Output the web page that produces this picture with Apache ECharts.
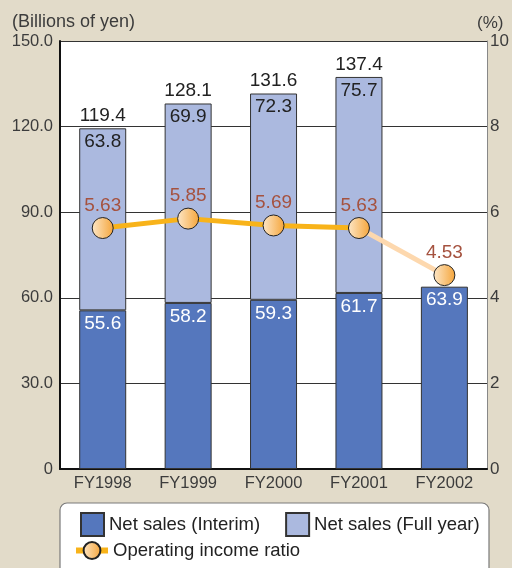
<!DOCTYPE html>
<html>
<head>
<meta charset="utf-8">
<script src="https://cdn.jsdelivr.net/npm/echarts@6/dist/echarts.min.js"></script>
<style>
  html, body { margin: 0; padding: 0; background: #e2dbc9; }
  #chart { width: 512px; height: 568px; }
</style>
</head>
<body>
<div id="chart"></div>
<script>
// Fiscal years on the category axis
const categories = ['FY1998', 'FY1999', 'FY2000', 'FY2001', 'FY2002'];
// Net sales, first half of the year (billions of yen)
const interimSales = [55.6, 58.2, 59.3, 61.7, 63.9];
// Net sales, second half of the year (stacked on the interim figure)
const secondHalfSales = [63.8, 69.9, 72.3, 75.7, '-'];
// Net sales for the full year, shown above each bar
const fullYearSales = [119.4, 128.1, 131.6, 137.4, '-'];
// Operating income ratio (%) for completed years
const incomeRatio = [5.63, 5.85, 5.69, 5.63, '-'];
// Forecast segment of the operating income ratio
const incomeRatioForecast = ['-', '-', '-', 5.63, 4.53];
// Tick labels for both value axes
const leftTickLabels = ['0', '30.0', '60.0', '90.0', '120.0', '150.0'];
const rightTickLabels = ['0', '2', '4', '6', '8', '10'];

const FONT = '"Liberation Sans", Arial, sans-serif';
const TEXT = '#3c3c3c';
const DARK_BLUE = '#5577bd';
const LIGHT_BLUE = '#abb9df';
const ORANGE = '#f8b31a';
const PEACH = '#fdd8ae';
const RATIO_RED = '#a5523f';
const VALUE_SIZE = 19;

const markerFill = new echarts.graphic.LinearGradient(0, 0, 1, 0, [
  { offset: 0, color: '#fde7c8' },
  { offset: 1, color: '#f5a53a' }
]);

const chart = echarts.init(document.getElementById('chart'));

chart.setOption({
  backgroundColor: '#e2dbc9',
  animation: false,
  textStyle: { fontFamily: FONT },
  title: [
    { text: '(Billions of yen)', left: 7, top: 8,
      textStyle: { fontFamily: FONT, fontSize: 18, fontWeight: 'normal', color: TEXT } },
    { text: '(%)', left: 472, top: 10,
      textStyle: { fontFamily: FONT, fontSize: 17, fontWeight: 'normal', color: TEXT } }
  ],
  grid: {
    left: 60, right: 23, top: 41, bottom: 99,
    show: true, backgroundColor: '#ffffff', borderWidth: 0
  },
  graphic: [{
    type: 'rect', z: 0,
    shape: { x: 60, y: 503, width: 429, height: 90, r: 7 },
    style: { fill: '#ffffff', stroke: '#7a7a7a', lineWidth: 1.2 }
  }],
  legend: [
    {
      data: ['Net sales (Interim)', 'Net sales (Full year)'],
      left: 80, top: 512, padding: 0,
      icon: 'rect',
      itemWidth: 23, itemHeight: 23, itemGap: 25,
      textStyle: { fontFamily: FONT, fontSize: 18.5, color: '#222' }
    },
    {
      data: ['Operating income ratio'],
      left: 73, top: 541, padding: 0,
      itemWidth: 32, itemHeight: 21,
      lineStyle: { width: 6 },
      textStyle: { fontFamily: FONT, fontSize: 18.5, color: '#222' }
    }
  ],
  xAxis: {
    type: 'category',
    data: categories,
    axisLine: { lineStyle: { color: '#111', width: 2 } },
    axisTick: { show: false },
    axisLabel: { color: TEXT, fontSize: 16.5, margin: 6, fontFamily: FONT }
  },
  yAxis: [
    {
      type: 'value', min: 0, max: 150, interval: 30,
      axisLine: { show: true, lineStyle: { color: '#111', width: 2 } },
      axisTick: { show: false },
      axisLabel: { color: TEXT, fontSize: 16.5, margin: 7, fontFamily: FONT,
        formatter: v => leftTickLabels[Math.round(v / 30)] },
      splitLine: { lineStyle: { color: '#333', width: 1 } }
    },
    {
      type: 'value', min: 0, max: 10, interval: 2,
      axisLine: { show: true, lineStyle: { color: '#888', width: 1 } },
      axisTick: { show: false },
      axisLabel: { color: TEXT, fontSize: 17, margin: 3, fontFamily: FONT,
        formatter: v => rightTickLabels[Math.round(v / 2)] },
      splitLine: { show: false }
    }
  ],
  series: [
    {
      name: 'Net sales (Interim)', type: 'bar', stack: 'sales',
      data: interimSales, barWidth: 47, barGap: '-100%',
      itemStyle: { color: DARK_BLUE, borderColor: '#333', borderWidth: 1 },
      label: { show: true, position: 'insideTop', distance: 4,
        color: '#ffffff', fontSize: VALUE_SIZE, fontFamily: FONT }
    },
    {
      name: 'Net sales (Full year)', type: 'bar', stack: 'sales',
      data: secondHalfSales, barWidth: 47, barGap: '-100%',
      itemStyle: { color: LIGHT_BLUE, borderColor: '#333', borderWidth: 1 },
      label: { show: true, position: 'insideTop', distance: 4,
        color: '#222', fontSize: VALUE_SIZE, fontFamily: FONT }
    },
    {
      name: 'Full year total', type: 'bar',
      data: fullYearSales, barWidth: 47, barGap: '-100%', silent: true,
      itemStyle: { color: 'rgba(0,0,0,0)', borderWidth: 0 },
      label: { show: true, position: 'top', distance: 3,
        color: '#222', fontSize: VALUE_SIZE, fontFamily: FONT }
    },
    {
      name: 'Operating income ratio forecast', type: 'line', yAxisIndex: 1,
      z: 3,
      data: incomeRatioForecast.map((v, i) => i === 3
        ? { value: v, symbol: 'none', label: { show: false } } : v),
      lineStyle: { color: PEACH, width: 5 },
      symbol: 'circle', symbolSize: 21,
      itemStyle: { color: markerFill, borderColor: '#222', borderWidth: 1 },
      label: { show: true, position: 'top', distance: 2,
        color: RATIO_RED, fontSize: VALUE_SIZE, fontFamily: FONT }
    },
    {
      name: 'Operating income ratio', type: 'line', yAxisIndex: 1,
      z: 4,
      data: incomeRatio,
      lineStyle: { color: ORANGE, width: 5 },
      symbol: 'circle', symbolSize: 21,
      itemStyle: { color: markerFill, borderColor: '#222', borderWidth: 1 },
      label: { show: true, position: 'top', distance: 2,
        color: RATIO_RED, fontSize: VALUE_SIZE, fontFamily: FONT }
    }
  ]
});
</script>
</body>
</html>
